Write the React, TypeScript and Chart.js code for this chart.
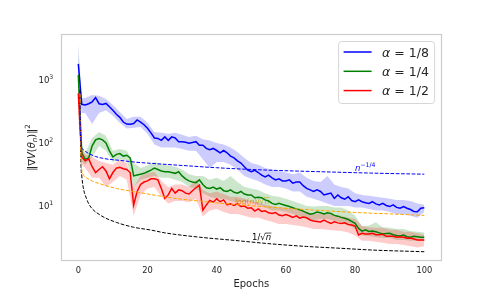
import React, { useEffect, useRef } from "react";
import { Chart, registerables } from "chart.js";

Chart.register(...registerables);

const FONT = "'DejaVu Sans', sans-serif";
const TEXT = "#262626";

// ---- data ----
const epochs = Array.from({ length: 101 }, (_, i) => i);

const blueMean = [
  1800, 411, 400, 420, 450, 525, 420, 410, 425, 375,
  330, 285, 255, 215, 200, 198, 204, 232, 215, 195,
  171, 145, 120, 118, 110, 125, 110, 125, 120, 105,
  105, 103, 99, 102, 105, 92, 92, 82, 78, 82,
  76, 70, 76, 70, 62, 58, 52, 48, 42, 37,
  35, 37, 34, 31, 29, 31, 28, 26, 27, 25,
  25, 26, 23, 24, 24, 21, 19, 18, 17, 18,
  17, 15, 15.5, 16, 13.2, 15, 13.5, 12.8, 14, 12.2,
  11.7, 12.5, 11.7, 11.3, 11, 11.7, 10.8, 10.4, 11, 10.2,
  9.8, 10.4, 9.5, 9.2, 9.8, 9.2, 8.8, 8.2, 8.1, 9.2,
  9.4,
];

const greenMean = [
  1200, 70, 55, 58, 90, 112, 118, 112, 100, 75,
  60, 66, 68, 62, 64, 58, 30, 31, 32, 33,
  35, 37, 40, 38, 36, 35, 35, 34, 33, 35,
  30, 27, 25, 24, 23.5, 26, 22, 19.5, 19, 20,
  18.5, 19.5, 17.5, 17, 18, 16.5, 16, 17, 15.5, 15,
  15, 13.5, 13.8, 13.5, 12.5, 12, 11, 10.6, 11, 10.6,
  10.2, 9.8, 9.4, 9.0, 8.7, 8.3, 7.8, 7.4, 7.6, 8.0,
  7.8, 7.5, 7.8, 7.6, 7.1, 6.9, 6.6, 6.4, 6.1, 5.7,
  5.3, 4.4, 4.0, 4.2, 3.95, 4.0, 3.9, 3.75, 3.6, 3.65,
  3.7, 3.5, 3.4, 3.35, 3.45, 3.25, 3.2, 3.3, 3.25, 3.2,
  3.2,
];

const redMean = [
  610, 60, 52, 56, 42, 34, 38, 42, 36, 27,
  34, 40, 41, 39, 38, 34, 10.4, 17, 22, 24,
  25, 27, 27, 26, 19, 13.2, 15, 19, 16, 18,
  17.5, 16, 15.5, 17.5, 19.5, 21.5, 8.6, 10.4, 12.3, 11.5,
  13, 11.7, 12.5, 10.4, 10.8, 10.2, 10.8, 9.8, 10, 9.2,
  9.4, 8.3, 9, 8.2, 8.4, 7.8, 7.6, 7.9, 7.2, 7.0,
  7.3, 7.0, 6.6, 7.0, 6.4, 6.7, 6.5, 6.0, 5.8, 5.7,
  5.6, 6.0, 5.6, 5.3, 5.6, 5.4, 5.3, 5.4, 5.1, 5.0,
  4.8, 3.47, 3.7, 3.6, 3.6, 3.7, 3.5, 3.5, 3.55, 3.3,
  3.3, 3.3, 3.2, 3.25, 3.2, 3.07, 3.1, 3.0, 2.9, 2.9,
  2.9,
];

const bandEpochs = [
  0, 1, 2, 4, 6, 8, 10, 12, 14, 16, 18, 20, 22, 24, 26, 28, 30, 32, 34, 36,
  38, 40, 42, 44, 46, 48, 50, 52, 54, 56, 58, 60, 62, 64, 66, 68, 70, 72, 74,
  76, 78, 80, 82, 84, 86, 88, 90, 92, 94, 96, 98, 100,
];

const blueLow = [
  600, 300, 300, 200, 300, 330, 270, 210, 170, 175, 180, 140, 95, 85, 85, 85,
  80, 75, 75, 55, 40, 50, 50, 45, 38, 30, 27, 25, 22, 20, 20, 19, 17, 17, 14,
  13, 12, 11, 10, 10, 10, 9.5, 9.5, 9, 8.5, 8.5, 8, 7.5, 7.5, 7, 6.5, 8,
];
const blueHigh = [
  3700, 520, 520, 580, 560, 500, 400, 310, 240, 260, 260, 210, 150, 145, 140,
  145, 135, 125, 130, 115, 110, 100, 95, 85, 72, 58, 48, 45, 40, 38, 36, 34, 32,
  34, 28, 25, 24, 30, 22, 20, 19, 16, 15, 14.5, 14, 13.5, 13, 12.5, 12.5, 12,
  11, 10.5,
];
const greenLow = [
  300, 50, 45, 60, 90, 75, 50, 55, 52, 20, 26, 28, 30, 28, 28, 26, 24, 20, 19,
  16, 14, 13, 13, 12, 11.5, 11.5, 11.5, 10.5, 9.5, 8.5, 8.5, 8, 7.5, 6.8, 6.2,
  6.0, 6.2, 6.2, 5.8, 5.5, 5.0, 4.3, 3.4, 3.3, 3.2, 3.1, 3.1, 2.9, 2.9, 2.8,
  2.8, 2.8,
];
const greenHigh = [
  3700, 85, 70, 120, 150, 130, 75, 80, 75, 48, 40, 44, 50, 46, 44, 42, 38, 32,
  30, 30, 26, 28, 25, 30, 24, 20, 19, 18, 16, 14.5, 14, 13, 12, 11, 10, 9.8, 10,
  10, 9.5, 9.5, 8.5, 7, 4.8, 4.9, 5.5, 4.6, 4.5, 4.3, 4.3, 4.0, 3.9, 3.8,
];
const redLow = [
  250, 45, 40, 28, 28, 20, 24, 30, 26, 7, 15, 19, 20, 14, 11, 12, 12, 11.5, 13,
  6.8, 8.5, 9, 8, 7.5, 7.5, 7, 6.5, 6.5, 6, 5.6, 5.2, 5.2, 5, 4.8, 4.6, 4.3,
  4.3, 4.2, 4.1, 4.0, 3.8, 3.4, 2.8, 2.8, 2.7, 2.6, 2.5, 2.5, 2.4, 2.3, 2.2, 2.3,
];
const redHigh = [
  1000, 80, 65, 60, 52, 48, 45, 55, 48, 20, 30, 33, 35, 25, 20, 22, 22, 20, 26,
  18, 16, 17, 15.5, 14, 14, 13, 12, 11.5, 10.5, 10, 9.5, 9.5, 9, 8.5, 8.2, 7.5,
  7.6, 7.5, 7.2, 7.0, 6.6, 6.2, 4.8, 4.6, 4.5, 4.5, 4.2, 4.2, 3.9, 3.9, 3.7, 3.5,
];

// reference rate curves
const quarterX = [0.5, 0.6, 0.8, 1, 1.5, 2, 3, 5, 8, 12, 16, 20, 30, 40, 50, 60, 70, 80, 90, 100];
const quarterY = [400, 160, 100, 85, 78, 74, 68, 61, 56, 53, 50, 48, 44, 40.5, 38, 36.3, 35, 33.8, 32.8, 32];
const logX = [0.5, 0.6, 0.7, 0.85, 1, 1.5, 2.4, 4, 6.3, 11, 16, 21, 25, 30, 35, 40, 50, 60, 70, 80, 90, 100];
const logY = [600, 200, 90, 50, 38, 31, 28, 25, 22.5, 19, 17, 15.2, 14, 12.8, 12, 11.2, 10.1, 9.2, 8.5, 7.9, 7.5, 7.1];
const sqrtX = [0.5, 0.6, 0.7, 0.8, 1, 1.4, 2.4, 3.4, 6.3, 11, 16, 21, 25, 35, 45, 56, 66, 76, 85, 100];
const sqrtY = [700, 150, 65, 40, 30, 20, 13, 10, 7.2, 5.5, 4.6, 4.15, 3.75, 3.2, 2.85, 2.5, 2.28, 2.13, 2.0, 1.88];

const xTicks = [0, 20, 40, 60, 80, 100];
const yTicks = [10, 100, 1000];
const yTickExponents = ["1", "2", "3"];
const legendLabels = ["1/8", "1/4", "1/2"];
const legendColors = ["#0000ff", "#008000", "#ff0000"];

// ---- helpers ----
const pts = (xs: number[], ys: number[]) => xs.map((x, i) => ({ x, y: ys[i] }));

type Part = { t: string; italic?: boolean; bar?: boolean; sup?: boolean; sub?: boolean };

function partFont(p: Part, size: number) {
  const s = p.sup || p.sub ? size * 0.72 : size;
  return `${p.italic ? "italic " : ""}${s}px ${FONT}`;
}

function measureParts(ctx: CanvasRenderingContext2D, parts: Part[], size: number) {
  let w = 0;
  for (const p of parts) {
    ctx.font = partFont(p, size);
    w += ctx.measureText(p.t).width;
  }
  return w;
}

function drawParts(ctx: CanvasRenderingContext2D, parts: Part[], x: number, y: number, size: number, color: string) {
  let cx = x;
  ctx.fillStyle = color;
  ctx.strokeStyle = color;
  ctx.textAlign = "left";
  ctx.textBaseline = "alphabetic";
  for (const p of parts) {
    ctx.font = partFont(p, size);
    const dy = p.sup ? -size * 0.42 : p.sub ? size * 0.22 : 0;
    ctx.fillText(p.t, cx, y + dy);
    const w = ctx.measureText(p.t).width;
    if (p.bar) {
      ctx.lineWidth = 0.7;
      ctx.beginPath();
      ctx.moveTo(cx - 0.5, y - size * 0.8);
      ctx.lineTo(cx + w + 0.3, y - size * 0.8);
      ctx.stroke();
    }
    cx += w;
  }
}

const decorPlugin = {
  id: "decor",
  beforeDatasetsDraw(chart: any) {
    const { ctx, scales } = chart;
    const xs = scales.x, ys = scales.y;
    ctx.save();
    drawParts(
      ctx,
      [{ t: "log(" }, { t: "n", italic: true }, { t: ")/\u221a" }, { t: "n", italic: true, bar: true }],
      xs.getPixelForValue(45.3),
      ys.getPixelForValue(10.9),
      7.5,
      "rgba(255,165,0,0.85)"
    );
    ctx.restore();
  },
  afterDatasetsDraw(chart: any) {
    const { ctx, scales } = chart;
    const xs = scales.x, ys = scales.y;
    ctx.save();
    drawParts(
      ctx,
      [{ t: "n", italic: true }, { t: "\u22121/4", sup: true }],
      xs.getPixelForValue(80),
      ys.getPixelForValue(36.5),
      8.5,
      "#0000ff"
    );
    drawParts(
      ctx,
      [{ t: "1/\u221a" }, { t: "n", italic: true, bar: true }],
      xs.getPixelForValue(50.2),
      ys.getPixelForValue(2.9),
      8.5,
      "#000000"
    );
    ctx.restore();
  },
  afterDraw(chart: any) {
    const { ctx, chartArea, scales } = chart;
    const ys = scales.y;
    ctx.save();
    // axes frame
    ctx.strokeStyle = "#cccccc";
    ctx.lineWidth = 1.2;
    ctx.strokeRect(
      Math.round(chartArea.left) + 0.5,
      Math.round(chartArea.top) - 0.5,
      Math.round(chartArea.right - chartArea.left) - 1,
      Math.round(chartArea.bottom - chartArea.top)
    );
    // y tick labels (10 with raised exponent)
    yTicks.forEach((v, i) => {
      const py = ys.getPixelForValue(v);
      const parts: Part[] = [{ t: "10" }, { t: yTickExponents[i], sup: true }];
      const w = measureParts(ctx, parts, 8.6);
      drawParts(ctx, parts, chartArea.left - 7.7 - w, py + 3.1, 8.6, TEXT);
    });
    // y axis title
    const title: Part[] = [
      { t: "\u2016\u2207" },
      { t: "V", italic: true },
      { t: "(" },
      { t: "\u03b8", italic: true },
      { t: "n", italic: true, sub: true },
      { t: ")\u2016" },
      { t: "2", sup: true },
    ];
    ctx.save();
    ctx.translate(31, (chartArea.top + chartArea.bottom) / 2);
    ctx.rotate(-Math.PI / 2);
    const tw = measureParts(ctx, title, 10);
    drawParts(ctx, title, -tw / 2, 3.6, 10, TEXT);
    ctx.restore();
    // legend
    const lx = chartArea.right - 103;
    const ly = chartArea.top + 7;
    const lw = 96, lh = 62, r = 3;
    ctx.beginPath();
    ctx.moveTo(lx + r, ly);
    ctx.lineTo(lx + lw - r, ly);
    ctx.quadraticCurveTo(lx + lw, ly, lx + lw, ly + r);
    ctx.lineTo(lx + lw, ly + lh - r);
    ctx.quadraticCurveTo(lx + lw, ly + lh, lx + lw - r, ly + lh);
    ctx.lineTo(lx + r, ly + lh);
    ctx.quadraticCurveTo(lx, ly + lh, lx, ly + lh - r);
    ctx.lineTo(lx, ly + r);
    ctx.quadraticCurveTo(lx, ly, lx + r, ly);
    ctx.closePath();
    ctx.fillStyle = "rgba(255,255,255,0.8)";
    ctx.fill();
    ctx.strokeStyle = "#d6d6d6";
    ctx.lineWidth = 1;
    ctx.stroke();
    legendLabels.forEach((lab, i) => {
      const rowY = ly + 10.5 + i * 19.3;
      ctx.strokeStyle = legendColors[i];
      ctx.lineWidth = 1.5;
      ctx.beginPath();
      ctx.moveTo(lx + 5, rowY);
      ctx.lineTo(lx + 33, rowY);
      ctx.stroke();
      drawParts(ctx, [{ t: "\u03b1", italic: true }, { t: " = " + lab }], lx + 43.5, rowY + 4.6, 12.5, TEXT);
    });
    ctx.restore();
  },
};

export default function App() {
  const ref = useRef<HTMLCanvasElement>(null);
  useEffect(() => {
    document.body.style.margin = "0";
    const mainLine = (label: string, data: any, color: string) => ({
      label,
      data,
      borderColor: color,
      backgroundColor: color,
      borderWidth: 1.5,
      pointRadius: 0,
      fill: false,
      tension: 0,
    });
    const dashed = (label: string, data: any, color: string) => ({
      label,
      data,
      borderColor: color,
      borderWidth: 1,
      borderDash: [3.7, 1.6],
      pointRadius: 0,
      fill: false,
      cubicInterpolationMode: "monotone",
    });
    const band = (label: string, data: any, fillColor: string, fillTo: any) => ({
      label,
      data,
      borderColor: "rgba(0,0,0,0)",
      borderWidth: 0,
      backgroundColor: fillColor,
      pointRadius: 0,
      fill: fillTo,
      tension: 0,
    });
    const chart = new Chart(ref.current as HTMLCanvasElement, {
      type: "line",
      data: {
        datasets: [
          dashed("n^-1/4", pts(quarterX, quarterY), "#0000ff"),
          dashed("log n/sqrt n", pts(logX, logY), "#ffa500"),
          dashed("1/sqrt n", pts(sqrtX, sqrtY), "#000000"),
          mainLine("α = 1/2", pts(epochs, redMean), "#ff0000"),
          mainLine("α = 1/4", pts(epochs, greenMean), "#008000"),
          mainLine("α = 1/8", pts(epochs, blueMean), "#0000ff"),
          band("red hi", pts(bandEpochs, redHigh), "rgba(255,0,0,0.2)", "+1"),
          band("red lo", pts(bandEpochs, redLow), "rgba(255,0,0,0.2)", false),
          band("green hi", pts(bandEpochs, greenHigh), "rgba(0,128,0,0.2)", "+1"),
          band("green lo", pts(bandEpochs, greenLow), "rgba(0,128,0,0.2)", false),
          band("blue hi", pts(bandEpochs, blueHigh), "rgba(0,0,255,0.2)", "+1"),
          band("blue lo", pts(bandEpochs, blueLow), "rgba(0,0,255,0.2)", false),
        ] as any,
      },
      options: {
        responsive: false,
        animation: false,
        devicePixelRatio: 1,
        layout: { padding: { left: 0, right: 49.4, top: 34.5, bottom: 0 } },
        plugins: { legend: { display: false }, tooltip: { enabled: false } },
        scales: {
          x: {
            type: "linear",
            bounds: "data",
            min: -5,
            max: 105,
            grid: { display: false, drawTicks: false },
            border: { display: false },
            afterBuildTicks: (s: any) => {
              s.ticks = xTicks.map((v) => ({ value: v }));
            },
            afterFit: (s: any) => {
              s.height = 33.5;
            },
            ticks: {
              color: TEXT,
              font: { family: FONT, size: 8.3 },
              padding: 5,
              maxRotation: 0,
              autoSkip: false,
            },
            title: {
              display: true,
              text: "Epochs",
              color: TEXT,
              font: { family: FONT, size: 10 },
              padding: { top: 0, bottom: 4 },
            },
          },
          y: {
            type: "logarithmic",
            bounds: "data",
            min: 1.365,
            max: 5272,
            grid: { display: false, drawTicks: false },
            border: { display: false },
            afterBuildTicks: (s: any) => {
              s.ticks = yTicks.map((v) => ({ value: v }));
            },
            afterFit: (s: any) => {
              s.width = 61;
            },
            ticks: { display: false },
            title: { display: false },
          },
        },
      } as any,
      plugins: [decorPlugin],
    });
    return () => chart.destroy();
  }, []);
  return (
    <div style={{ width: 491, height: 294, background: "#ffffff" }}>
      <canvas ref={ref} width={491} height={294} style={{ display: "block" }} />
    </div>
  );
}
